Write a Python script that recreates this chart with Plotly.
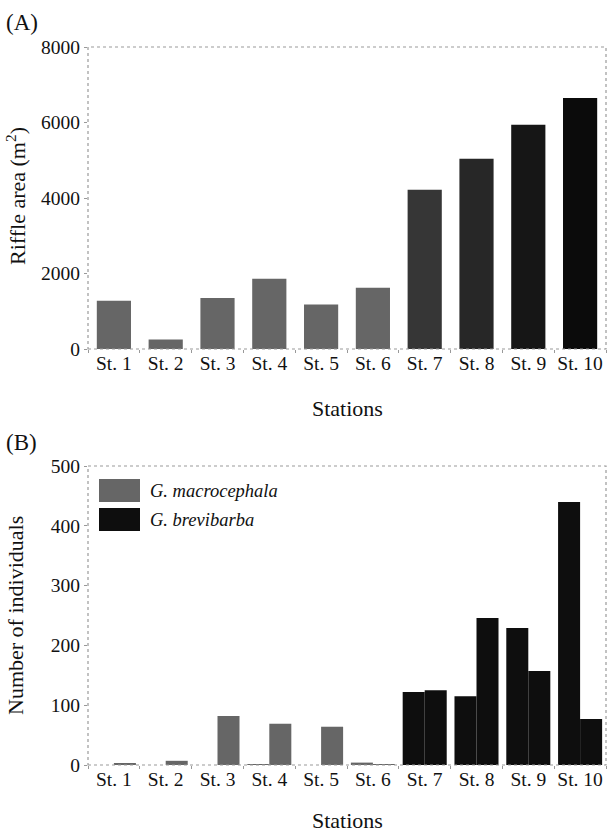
import plotly.graph_objects as go

stations = ["St. 1", "St. 2", "St. 3", "St. 4", "St. 5", "St. 6", "St. 7", "St. 8", "St. 9", "St. 10"]
riffle_area = [1280, 250, 1350, 1860, 1180, 1620, 4220, 5040, 5940, 6650]
species = ["G. macrocephala"] * 6 + ["G. brevibarba"] * 4
count_left = [0, 0, 0, 1, 0, 4, 122, 115, 229, 440]
count_right = [3, 7, 82, 69, 64, 1, 125, 246, 157, 77]
species_names = ["G. macrocephala", "G. brevibarba"]

# styles
area_colors = ["#666666"] * 6 + ["#363636", "#272727", "#161616", "#0b0b0b"]
species_colors = {"G. macrocephala": "#666666", "G. brevibarba": "#0e0e0e"}
FONT = "Liberation Serif"
W, H = 607, 832
TICK = 19.5
TITLE = 22

fig = go.Figure()
fig.add_trace(go.Bar(x=stations, y=riffle_area, marker=dict(color=area_colors, line=dict(width=0)),
                     width=0.66, xaxis="x", yaxis="y", showlegend=False))
bcol = [species_colors[s] for s in species]
fig.add_trace(go.Bar(x=stations, y=count_left, marker=dict(color=bcol, line=dict(width=0)),
                     xaxis="x2", yaxis="y2", showlegend=False, offsetgroup="a"))
fig.add_trace(go.Bar(x=stations, y=count_right, marker=dict(color=bcol, line=dict(width=0)),
                     xaxis="x2", yaxis="y2", showlegend=False, offsetgroup="b"))

xd = [88 / W, 606 / W]
base = dict(showline=False, zeroline=False, showgrid=False, automargin=False,
            ticks="outside", ticklen=3, tickcolor="#999", tickwidth=1,
            tickfont=dict(family=FONT, size=TICK, color="#111"))
xextra = dict(tickson="boundaries", tickangle=0)
fig.update_layout(
    width=W, height=H, margin=dict(l=0, r=0, t=0, b=0, autoexpand=False),
    paper_bgcolor="white", plot_bgcolor="white",
    barmode="group", bargap=0.15, bargroupgap=0.0, showlegend=False,
    font=dict(family=FONT, color="#111"),
    xaxis=dict(domain=xd, anchor="y", **base, **xextra),
    yaxis=dict(domain=[1 - 349 / H, 1 - 47 / H], anchor="x", range=[0, 8000], dtick=2000, **base),
    xaxis2=dict(domain=xd, anchor="y2", **base, **xextra),
    yaxis2=dict(domain=[1 - 765 / H, 1 - 466 / H], anchor="x2", range=[0, 500], dtick=100, **base),
)

for xr, yr in [("x domain", "y domain"), ("x2 domain", "y2 domain")]:
    fig.add_shape(type="rect", xref=xr, yref=yr, x0=0, x1=1, y0=0, y1=1,
                  line=dict(color="#9a9a9a", width=1.2, dash="dot"), layer="above")

def txt(s, x, y, size, angle=0, xanchor="center"):
    fig.add_annotation(text=s, xref="paper", yref="paper", x=x / W, y=1 - y / H, showarrow=False,
                       xanchor=xanchor, yanchor="middle", textangle=angle,
                       font=dict(family=FONT, size=size, color="#111"))

# panel labels
txt("(A)", 4, 22, 23, xanchor="left")
txt("(B)", 4, 442, 23, xanchor="left")
# axis titles
txt("Stations", 347, 408, TITLE)
txt("Stations", 347, 820, TITLE)
txt("Riffle area (m<sup>2</sup>)", 16, 196, TITLE, angle=-90)
txt("Number of individuals", 15, 616, TITLE, angle=-90)

# legend drawn in panel B
leg_rows = [(479, 502), (508, 531)]
for name, (t, b) in zip(species_names, leg_rows):
    fig.add_shape(type="rect", xref="paper", yref="paper", x0=99 / W, x1=140 / W,
                  y0=1 - b / H, y1=1 - t / H, fillcolor=species_colors[name], line=dict(width=0))
    txt("<i>" + name + "</i>", 148, (t + b) / 2, 18.5, xanchor="left")

fig.write_html("out.html", config={"displayModeBar": False},
               post_script="document.body.style.margin='0';document.body.style.overflow='hidden';")
